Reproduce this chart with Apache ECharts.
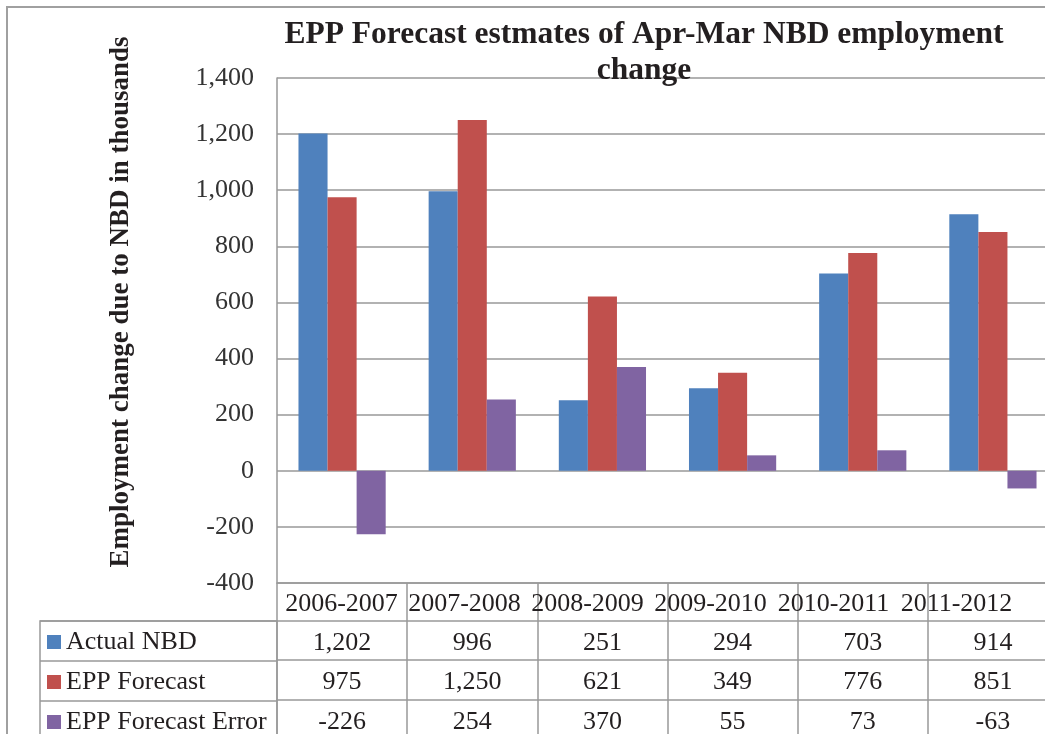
<!DOCTYPE html>
<html>
<head>
<meta charset="utf-8">
<script src="https://cdn.jsdelivr.net/npm/echarts@6/dist/echarts.min.js"></script>
<style>
html,body{margin:0;padding:0;background:#fff;overflow:hidden;width:1045px;height:734px;}
#chart{width:1070px;height:760px;}
</style>
</head>
<body>
<div id="chart"></div>
<script>
const categories = ['2006-2007','2007-2008','2008-2009','2009-2010','2010-2011','2011-2012'];
const actualNBD = [1202, 996, 251, 294, 703, 914];
const eppForecast = [975, 1250, 621, 349, 776, 851];
const eppError = [-226, 254, 370, 55, 73, -63];
const seriesNames = ['Actual NBD', 'EPP Forecast', 'EPP Forecast Error'];
const yTicks = {min: -400, max: 1400, interval: 200};

const FONT = 'Liberation Serif';
const TXT = '#231f20';
const LINE = '#999999';
const fmt = v => Number(v).toLocaleString('en-US');

function rowAxis(offset, values) {
  return {
    type: 'category', gridIndex: 0, position: 'bottom', offset: offset,
    data: categories,
    axisLine: {show: true, onZero: false, lineStyle: {color: LINE, width: 1.5}},
    axisTick: {show: true, length: 40, lineStyle: {color: LINE, width: 1.5}},
    axisLabel: {
      show: true, margin: 9, interval: 0,
      fontFamily: FONT, fontSize: 26, color: TXT,
      formatter: (v, i) => fmt(values[i])
    },
    splitLine: {show: false}
  };
}

const chart = echarts.init(document.getElementById('chart'), null, {renderer: 'canvas'});
chart.setOption({
  animation: false,
  backgroundColor: '#fff',
  title: {
    text: 'EPP Forecast estmates of Apr-Mar NBD employment\nchange',
    left: 644, top: 17, textAlign: 'center', padding: 0,
    textStyle: {fontFamily: FONT, fontSize: 31.5, fontWeight: 'bold', color: TXT, lineHeight: 36}
  },
  legend: {
    orient: 'vertical', left: 47, top: 629, padding: 0,
    itemWidth: 14, itemHeight: 14, itemGap: 14,
    selectedMode: false,
    icon: 'rect',
    data: seriesNames,
    textStyle: {fontFamily: FONT, fontSize: 26, color: TXT, lineHeight: 26}
  },
  graphic: [{
    type: 'rect', z: -10,
    shape: {x: 7, y: 7, width: 1200, height: 900},
    style: {fill: null, stroke: '#a0a0a0', lineWidth: 2}
  }],
  grid: [
    {left: 277, top: 78, width: 781, height: 505},
    {left: 40, top: 621, width: 237, height: 119, show: true, borderColor: LINE, borderWidth: 1.5, backgroundColor: 'transparent'},
    {left: 280, top: 560, width: 738, height: 23}
  ],
  xAxis: [
    {
      type: 'category', gridIndex: 0, position: 'bottom', data: categories,
      axisLine: {show: true, onZero: false, lineStyle: {color: LINE, width: 1.5}},
      axisTick: {show: true, length: 38, lineStyle: {color: LINE, width: 1.5}},
      axisLabel: {show: false},
      splitLine: {show: false}
    },
    rowAxis(38, actualNBD),
    rowAxis(77, eppForecast),
    rowAxis(117, eppError),
    {type: 'value', gridIndex: 1, show: false},
    {
      type: 'category', gridIndex: 2, position: 'bottom', data: categories,
      axisLine: {show: false}, axisTick: {show: false}, splitLine: {show: false},
      axisLabel: {show: true, margin: 8, interval: 0, fontFamily: FONT, fontSize: 26, color: TXT}
    }
  ],
  yAxis: [
    {
      type: 'value', gridIndex: 0,
      min: yTicks.min, max: yTicks.max, interval: yTicks.interval,
      name: 'Employment change due to NBD in thousands',
      nameLocation: 'middle', nameGap: 142,
      nameTextStyle: {fontFamily: FONT, fontSize: 27, fontWeight: 'bold', color: TXT, padding: [0, 0, 0, 57]},
      axisLine: {show: true, lineStyle: {color: LINE, width: 1.5}},
      axisTick: {show: false},
      axisLabel: {margin: 23, fontFamily: FONT, fontSize: 26, color: '#333', formatter: v => fmt(v)},
      splitLine: {show: true, lineStyle: {color: LINE, width: 1.5}}
    },
    {
      type: 'category', gridIndex: 1, inverse: true,
      data: seriesNames,
      axisLine: {show: false}, axisTick: {show: false}, axisLabel: {show: false},
      splitLine: {show: true, lineStyle: {color: LINE, width: 1.5}}
    },
    {type: 'value', gridIndex: 2, show: false}
  ],
  series: [
    {name: seriesNames[0], type: 'bar', xAxisIndex: 0, yAxisIndex: 0, data: actualNBD,
     barGap: '0%', barCategoryGap: '33%', itemStyle: {color: '#4F81BD'}},
    {name: seriesNames[1], type: 'bar', xAxisIndex: 0, yAxisIndex: 0, data: eppForecast,
     barGap: '0%', barCategoryGap: '33%', itemStyle: {color: '#C0504D'}},
    {name: seriesNames[2], type: 'bar', xAxisIndex: 0, yAxisIndex: 0, data: eppError,
     barGap: '0%', barCategoryGap: '33%', itemStyle: {color: '#8064A2'}}
  ]
});
</script>
</body>
</html>
